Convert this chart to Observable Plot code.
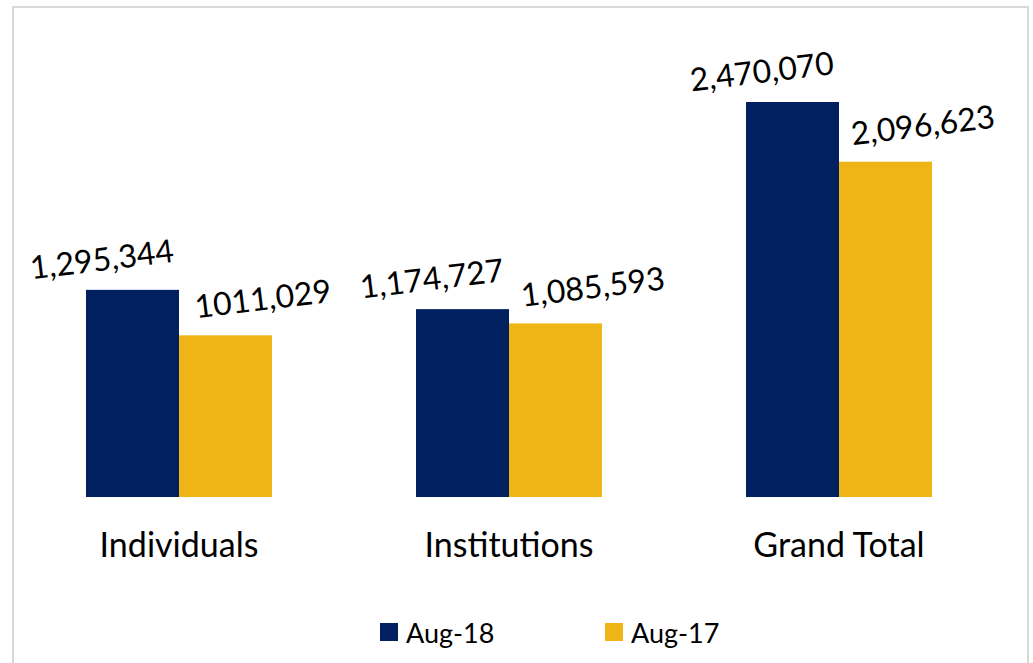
<!DOCTYPE html>
<html>
<head>
<meta charset="utf-8">
<script src="https://cdn.jsdelivr.net/npm/d3@7"></script>
<script src="https://cdn.jsdelivr.net/npm/@observablehq/plot@0.6"></script>
<style>
  html, body { margin: 0; padding: 0; background: #fff; }
  #wrap { position: relative; width: 1033px; height: 663px; overflow: hidden; font-family: Lato, "Open Sans", sans-serif; }
  #frame { position: absolute; left: 12px; top: 6px; width: 1017px; height: 700px; border: 2px solid #d9d9d9; box-sizing: border-box; }
  #chart { position: absolute; left: 0; top: 0; }
  #legend { position: absolute; left: 0; top: 617px; width: 1033px; height: 30px; }
  .item { position: absolute; top: 0; display: flex; align-items: center; font-size: 27px; color: #000; height: 30px; }
  .sw { width: 18px; height: 18px; margin-right: 8px; display: inline-block; }
</style>
</head>
<body>
<div id="wrap">
  <div id="frame"></div>
  <div id="chart"></div>
  <div id="legend"></div>
</div>
<script>
const categories = ["Individuals", "Institutions", "Grand Total"];
const seriesNames = ["Aug-18", "Aug-17"];
const aug18 = [1295344, 1174727, 2470070];
const aug17 = [1011029, 1085593, 2096623];
const labels18 = ["1,295,344", "1,174,727", "2,470,070"];
const labels17 = ["1011,029", "1,085,593", "2,096,623"];
const colors = ["#002060", "#EFB416"];

const data = [];
categories.forEach((c, i) => {
  data.push({category: c, series: seriesNames[0], value: aug18[i], label: labels18[i]});
  data.push({category: c, series: seriesNames[1], value: aug17[i], label: labels17[i]});
});

const font = "Lato, 'Open Sans', sans-serif";

const chart = Plot.plot({
  width: 1033,
  height: 600,
  marginLeft: 84,
  marginRight: 99,
  marginTop: 102,
  marginBottom: 103,
  style: {fontFamily: font, background: "transparent", overflow: "visible"},
  fx: {domain: categories, paddingInner: 0.432, paddingOuter: 0, label: null, axis: "bottom", tickSize: 0, tickPadding: 35, fontSize: 34},
  x: {domain: seriesNames, padding: 0, axis: null},
  y: {domain: [0, d3.max(aug18.concat(aug17))], axis: null},
  color: {domain: seriesNames, range: colors},
  marks: [
    Plot.barY(data, {fx: "category", x: "series", y: "value", fill: "series", inset: 0}),
    Plot.text(data.filter(d => d.series === seriesNames[0]), {fx: "category", x: "series", y: "value", text: "label", rotate: -7, dx: -31, dy: -30, fontSize: 32, fill: "#000"}),
    Plot.text(data.filter(d => d.series === seriesNames[1]), {fx: "category", x: "series", y: "value", text: "label", rotate: -7, dx: 37, dy: -36, fontSize: 32, fill: "#000"})
  ]
});
chart.querySelectorAll("[aria-label='fx-axis tick label'] text").forEach(t => t.setAttribute("font-size", 34));
document.getElementById("chart").appendChild(chart);

const legend = document.getElementById("legend");
const legendX = [380, 605];
seriesNames.forEach((s, i) => {
  const item = document.createElement("div");
  item.className = "item";
  item.style.left = legendX[i] + "px";
  item.innerHTML = `<span class="sw" style="background:${colors[i]}"></span><span>${s}</span>`;
  legend.appendChild(item);
});
</script>
</body>
</html>
